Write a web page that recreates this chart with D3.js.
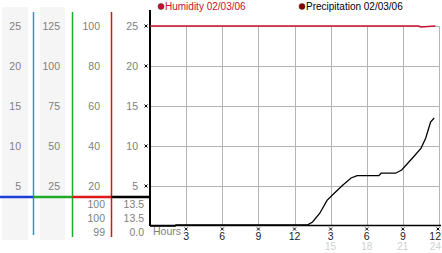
<!DOCTYPE html>
<html>
<head>
<meta charset="utf-8">
<script src="https://cdn.jsdelivr.net/npm/d3@7"></script>
<style>
body { margin: 0; background: #fff; }
svg text { font-family: "Liberation Sans", Arial, sans-serif; }
</style>
</head>
<body>
<div id="chart"></div>
<script>
// data
var hours = [3, 6, 9, 12, 15, 18, 21, 24];
var tempTicks = [5, 10, 15, 20, 25];
var windTicks = [25, 50, 75, 100, 125];
var humidityTicks = [20, 40, 60, 80, 100];
var precipTicks = [5, 10, 15, 20, 25];
var humidityStats = ["100", "100", "99"];
var precipStats = ["13.5", "13.5", "0.0"];

var humidityHour = [0, 22.3, 22.5, 23.7];
var humidityVal = [100, 100, 99.5, 100];

var precipHour = [0, 2.1, 2.15, 13.1, 13.5, 14.1, 14.7, 15.3, 16.0, 16.7, 17.2, 19.0, 19.2, 20.4, 20.9, 21.8, 22.5, 22.9, 23.3, 23.6];
var precipVal = [0, 0, 0.15, 0.15, 0.5, 1.6, 3.2, 4.1, 5.1, 6.0, 6.3, 6.3, 6.6, 6.6, 7.0, 8.5, 9.7, 11.0, 13.0, 13.5];

var legend = [
    {name: "Humidity 02/03/06", color: "#c8102e", text: "#c8102e", x: 161},
    {name: "Precipitation 02/03/06", color: "#8b0000", text: "#000", x: 302}
];

var width = 442, height = 253;

var svg = d3.select("#chart").append("svg")
    .attr("width", width)
    .attr("height", height);

// scales
var x = d3.scaleLinear().domain([0, 24]).range([150, 439]);
var yP = d3.scaleLinear().domain([0, 25]).range([226, 26]);
var yT = d3.scaleLinear().domain([0, 25]).range([226, 26]);
var yW = d3.scaleLinear().domain([0, 125]).range([226, 26]);
var yH = d3.scaleLinear().domain([0, 100]).range([226, 26]);

// gray column backgrounds
svg.append("rect").attr("x", 2).attr("y", 7).attr("width", 26).attr("height", 233).attr("fill", "#f5f5f5");
svg.append("rect").attr("x", 40).attr("y", 7).attr("width", 25).attr("height", 233).attr("fill", "#f5f5f5");

// left scale columns
function column(scale, ticks, right) {
    svg.append("g").selectAll("text")
        .data(ticks)
        .enter().append("text")
        .attr("x", right)
        .attr("y", function(d) { return scale(d) + 4; })
        .attr("text-anchor", "end")
        .attr("fill", "#808080")
        .style("font-size", "10.5px")
        .text(function(d) { return d; });
}
column(yT, tempTicks, 21);
column(yW, windTicks, 60);
column(yH, humidityTicks, 100);
column(yP, precipTicks, 138);

// stats rows below
var statY = [208, 222, 236];
svg.append("g").selectAll("text")
    .data(humidityStats)
    .enter().append("text")
    .attr("x", 105).attr("y", function(d, i) { return statY[i]; })
    .attr("text-anchor", "end").attr("fill", "#808080").style("font-size", "10.5px")
    .text(function(d) { return d; });
svg.append("g").selectAll("text")
    .data(precipStats)
    .enter().append("text")
    .attr("x", 144).attr("y", function(d, i) { return statY[i]; })
    .attr("text-anchor", "end").attr("fill", "#808080").style("font-size", "10.5px")
    .text(function(d) { return d; });

// colored column dividers
var dividers = [
    {x: 33.5, color: "#1e9ccc", y1: 12, y2: 235},
    {x: 72.5, color: "#1faa2a", y1: 12, y2: 237},
    {x: 111.5, color: "#cc1a1a", y1: 12, y2: 237}
];
dividers.forEach(function(d) {
    svg.append("line").attr("x1", d.x).attr("x2", d.x).attr("y1", d.y1).attr("y2", d.y2)
        .attr("stroke", d.color).attr("stroke-width", 1.5);
});
var hColors = ["#1a3fd6", "#1faa2a", "#e01a1a", "#000"];
var hStops = [0, 33.5, 72.5, 111.5, 150];
hColors.forEach(function(c, i) {
    svg.append("line").attr("x1", hStops[i]).attr("x2", hStops[i + 1])
        .attr("y1", 197).attr("y2", 197)
        .attr("stroke", c).attr("stroke-width", 2.5);
});

// grid
svg.append("g").selectAll("line")
    .data(precipTicks)
    .enter().append("line")
    .attr("x1", x(0)).attr("x2", x(24))
    .attr("y1", function(d) { return Math.round(yP(d)) + 0.5; })
    .attr("y2", function(d) { return Math.round(yP(d)) + 0.5; })
    .attr("stroke", "#b4b4b4").attr("stroke-width", 1);
svg.append("g").selectAll("line")
    .data(hours)
    .enter().append("line")
    .attr("x1", function(d) { return Math.round(x(d)) + 0.5; })
    .attr("x2", function(d) { return Math.round(x(d)) + 0.5; })
    .attr("y1", yP(25)).attr("y2", yP(0))
    .attr("stroke", "#b4b4b4").attr("stroke-width", 1);

// axes lines
svg.append("line").attr("x1", 150).attr("x2", 150).attr("y1", 10).attr("y2", 226)
    .attr("stroke", "#000").attr("stroke-width", 2);
svg.append("line").attr("x1", 150).attr("x2", 441).attr("y1", 225.5).attr("y2", 225.5)
    .attr("stroke", "#000").attr("stroke-width", 1.5);

// little tick marks
var mark = "M-1.5,-1.5L1.5,1.5M1.5,-1.5L-1.5,1.5";
svg.append("g").selectAll("path")
    .data(precipTicks)
    .enter().append("path")
    .attr("transform", function(d) { return "translate(146," + yP(d) + ")"; })
    .attr("d", mark).attr("stroke", "#000").attr("stroke-width", 1);
svg.append("g").selectAll("path")
    .data(hours)
    .enter().append("path")
    .attr("transform", function(d) { return "translate(" + Math.min(x(d), 438) + ",229)"; })
    .attr("d", mark).attr("stroke", "#000").attr("stroke-width", 1);

// hour labels
function hourX(d) { return d === 24 ? 441 : x(d); }
function hourAnchor(d) { return d === 24 ? "end" : "middle"; }
svg.append("text").attr("x", 153).attr("y", 235).attr("fill", "#808080")
    .style("font-size", "10.5px").text("Hours");
svg.append("g").selectAll("text")
    .data(hours)
    .enter().append("text")
    .attr("x", hourX)
    .attr("y", 240)
    .attr("text-anchor", hourAnchor).attr("fill", "#222").style("font-size", "10.5px")
    .text(function(d) { return d > 12 ? d - 12 : d; });
svg.append("g").selectAll("text")
    .data(hours.filter(function(d) { return d > 12; }))
    .enter().append("text")
    .attr("x", hourX)
    .attr("y", 250)
    .attr("text-anchor", hourAnchor).attr("fill", "#d0d0d0").style("font-size", "10px")
    .text(function(d) { return d; });

// series
var humidityData = humidityHour.map(function(h, i) { return {h: h, v: humidityVal[i]}; });
var precipData = precipHour.map(function(h, i) { return {h: h, v: precipVal[i]}; });

svg.append("path")
    .datum(humidityData)
    .attr("fill", "none").attr("stroke", "#c8102e").attr("stroke-width", 1.5)
    .attr("d", d3.line().x(function(d) { return x(d.h); }).y(function(d) { return yH(d.v); }));

svg.append("path")
    .datum(precipData)
    .attr("fill", "none").attr("stroke", "#000").attr("stroke-width", 1.3)
    .attr("d", d3.line().x(function(d) { return x(d.h); }).y(function(d) { return yP(d.v); }));

// legend
var lg = svg.append("g").selectAll("g").data(legend).enter().append("g");
lg.append("circle").attr("cx", function(d) { return d.x; }).attr("cy", 6.5).attr("r", 3)
    .attr("fill", function(d) { return d.color; }).attr("stroke", "#333").attr("stroke-width", 0.5);
lg.append("text").attr("x", function(d) { return d.x + 4; }).attr("y", 10)
    .attr("fill", function(d) { return d.text; }).style("font-size", "10px")
    .text(function(d) { return d.name; });
</script>
</body>
</html>
